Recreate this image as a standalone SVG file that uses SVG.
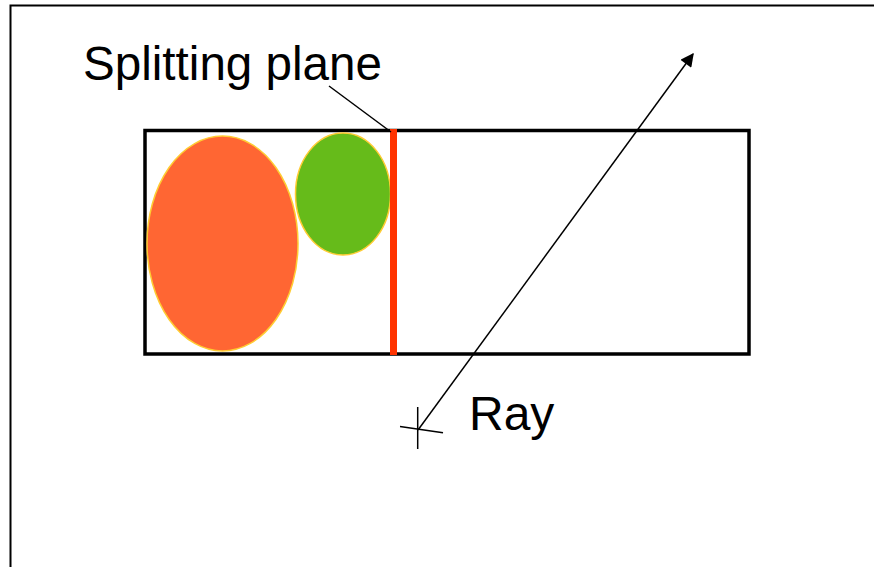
<svg xmlns="http://www.w3.org/2000/svg" width="874" height="567" viewBox="0 0 874 567">
<style>
.lbl{font-family:"Liberation Sans",Arial,sans-serif;font-size:48px;fill:#000}
.thin{stroke:#000;stroke-width:1.5;fill:none}
</style>
<defs>
<marker id="ah" viewBox="0 0 10 10" refX="9" refY="5" markerWidth="12" markerHeight="9" markerUnits="strokeWidth" orient="auto">
<path d="M0,0 L10,5 L0,10 z" fill="#000"/>
</marker>
</defs>
<rect width="874" height="567" fill="#fff"/>
<path d="M10.5,567 V5.5 H874" fill="none" stroke="#000" stroke-width="2"/>
<g id="box"><rect x="145" y="130.5" width="604" height="223.5" fill="none" stroke="#000" stroke-width="3.5"/></g>
<g id="orange"><ellipse cx="222.5" cy="243.5" rx="75.5" ry="107.5" fill="#FF6633" stroke="#FFCC33" stroke-width="1.5"/></g>
<g id="green"><ellipse cx="343" cy="194" rx="47.5" ry="61" fill="#66BB1A" stroke="#FFCC33" stroke-width="1.5"/></g>
<g id="plane"><line x1="393.5" y1="129" x2="393.5" y2="355" stroke="#FF3300" stroke-width="7"/></g>
<g id="cross">
<line class="thin" x1="417.7" y1="407" x2="417.7" y2="449"/>
<line class="thin" x1="400" y1="426.5" x2="443" y2="432.7"/>
</g>
<g id="connectors">
<line class="thin" x1="329" y1="86" x2="391" y2="132"/>
<line class="thin" x1="418" y1="430" x2="693" y2="54" marker-end="url(#ah)"/>
</g>
<g id="labels">
<text class="lbl" x="83" y="80" textLength="299" lengthAdjust="spacingAndGlyphs">Splitting plane</text>
<text class="lbl" x="469" y="430">Ray</text>
</g>
</svg>
